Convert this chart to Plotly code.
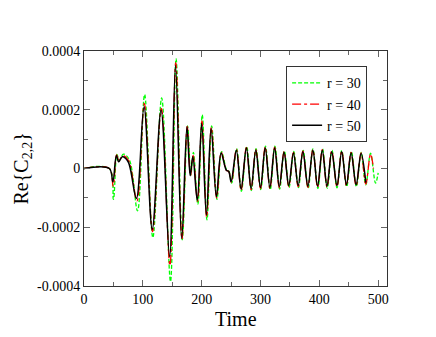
import numpy as np
import plotly.graph_objects as go

# values are in units of 1e-4
scale = 1e-4

t_50 = [0, 43, 49, 55, 59, 65, 75, 89, 102, 116, 131, 145.5, 155.5, 166, 175, 180.5, 185, 192.5,
        200, 208, 216, 225, 233, 242, 246, 250, 259, 267, 276, 284, 292, 300, 308, 316, 324, 332,
        340, 348, 356, 364, 372, 380.5, 389, 397, 405, 413, 421, 430, 438, 446, 454, 462.5, 471, 479]
v_50 = [0, 0, -0.45, 0.44, 0.23, 0.40, 0.23, -1.02, 2.10, -2.07, 1.98, -3.00, 3.51, -2.38, 1.42, -0.25, 0.40, -1.08,
        1.53, -1.58, 1.36, -0.96, 0.53, -0.06, -0.10, -0.45, 0.62, -0.70, 0.70, -0.68, 0.62, -0.65, 0.70, -0.65, 0.70, -0.62,
        0.55, -0.58, 0.53, -0.58, 0.57, -0.60, 0.62, -0.60, 0.62, -0.60, 0.57, -0.58, 0.57, -0.55, 0.53, -0.55, 0.51, -0.48]

t_40 = [0, 43, 49.5, 55.5, 59.5, 66, 76, 90, 102.5, 116.5, 131.5, 146, 156, 166.5, 175.5, 181, 185.5, 193,
        200.5, 208.5, 216.5, 225.5, 233.5, 242, 246, 250.5, 259, 267, 276, 284, 292, 300, 308, 316, 324, 332,
        340, 348, 356, 364, 372, 380.5, 389, 397, 405, 413, 421, 430, 438, 446, 454, 462.5, 471, 479, 487, 492]
v_40 = [0, 0, -0.60, 0.46, 0.25, 0.44, 0.26, -1.10, 2.22, -2.15, 2.05, -3.30, 3.60, -2.40, 1.43, -0.24, 0.45, -1.12,
        1.62, -1.65, 1.40, -1.00, 0.55, -0.06, -0.10, -0.47, 0.65, -0.74, 0.72, -0.72, 0.65, -0.68, 0.73, -0.68, 0.73, -0.66,
        0.57, -0.62, 0.55, -0.62, 0.60, -0.64, 0.64, -0.64, 0.64, -0.63, 0.60, -0.62, 0.60, -0.58, 0.55, -0.58, 0.53, -0.53,
        0.49, 0.0]

t_30 = [0, 43, 50, 56, 60, 67, 77, 91, 103, 117, 132, 147, 156.5, 167, 176, 181.5, 186, 193.5,
        201, 209, 217, 226, 234, 242.5, 246.5, 251, 259.5, 267.5, 276.5, 284.5, 292.5, 300.5, 308.5, 316.5, 324.5, 332.5,
        340.5, 348.5, 356.5, 364.5, 372.5, 381, 389, 397.5, 405.5, 413.5, 421.5, 430, 438, 446.5, 454.5, 463, 471, 479,
        487, 495.5, 500]
v_30 = [0, 0, -1.05, 0.48, 0.28, 0.49, 0.30, -1.44, 2.52, -2.35, 2.40, -3.85, 3.74, -2.43, 1.45, -0.22, 0.55, -1.22,
        1.83, -1.75, 1.45, -1.05, 0.57, -0.05, -0.10, -0.50, 0.68, -0.78, 0.75, -0.75, 0.68, -0.72, 0.76, -0.72, 0.76, -0.70,
        0.60, -0.65, 0.58, -0.65, 0.62, -0.68, 0.67, -0.68, 0.67, -0.67, 0.62, -0.66, 0.62, -0.62, 0.58, -0.62, 0.55, -0.56,
        0.52, -0.50, -0.15]

y_ticks = [-0.0004, -0.0002, 0, 0.0002, 0.0004]
y_ticktext = ["-0.0004", "-0.0002", "0", "0.0002", "0.0004"]

serif = "Liberation Serif"

fig = go.Figure()
fig.add_trace(go.Scatter(x=t_30, y=np.array(v_30) * scale, mode='lines', name="r = 30",
                         line=dict(color='#00ff00', width=1.3, dash='4px,2px', shape='spline')))
fig.add_trace(go.Scatter(x=t_40, y=np.array(v_40) * scale, mode='lines', name="r = 40",
                         line=dict(color='#ff0000', width=1.3, dash='dashdot', shape='spline')))
fig.add_trace(go.Scatter(x=t_50, y=np.array(v_50) * scale, mode='lines', name="r = 50",
                         line=dict(color='#000000', width=1.5, shape='spline')))

axis_common = dict(showline=True, linecolor='#333333', linewidth=1, mirror='allticks',
                   ticks='inside', ticklen=6, tickcolor='#666666', showgrid=False, zeroline=False,
                   automargin=False, tickfont=dict(family=serif, size=14, color='black'))

# the page body adds an 8px offset, so margins are shifted to compensate
fig.update_layout(
    width=436, height=337,
    margin={'l': 76, 'r': 57, 't': 43, 'b': 59},
    plot_bgcolor='white', paper_bgcolor='white',
    font=dict(family=serif, color='black'),
    xaxis=dict(range=[0, 515], tickvals=[0, 100, 200, 300, 400, 500],
               minor=dict(tickvals=[50, 150, 250, 350, 450], ticks='inside', ticklen=4, tickcolor='#666666'),
               **axis_common),
    yaxis=dict(range=[-0.0004, 0.0004], tickvals=y_ticks, ticktext=y_ticktext, ticklabelstandoff=0,
               minor=dict(tickvals=[-0.0003, -0.0001, 0.0001, 0.0003], ticks='inside', ticklen=4, tickcolor='#666666'),
               **axis_common),
    legend=dict(x=0.667, y=0.935, xanchor='left', yanchor='top', bgcolor='white',
                bordercolor='#333333', borderwidth=1, font=dict(family=serif, size=14),
                tracegroupgap=0),
    showlegend=True,
)

# axis titles
fig.add_annotation(text="Time", xref='paper', yref='paper', x=0.5, y=0, yanchor='top',
                   yshift=-20, showarrow=False, font=dict(family=serif, size=20))
fig.add_annotation(text="Re{C<sub>2,2</sub>}", xref='paper', yref='paper', x=0, y=0.5, xanchor='center',
                   xshift=-62, textangle=-90, showarrow=False, font=dict(family=serif, size=20))

fig.write_html("out.html")
